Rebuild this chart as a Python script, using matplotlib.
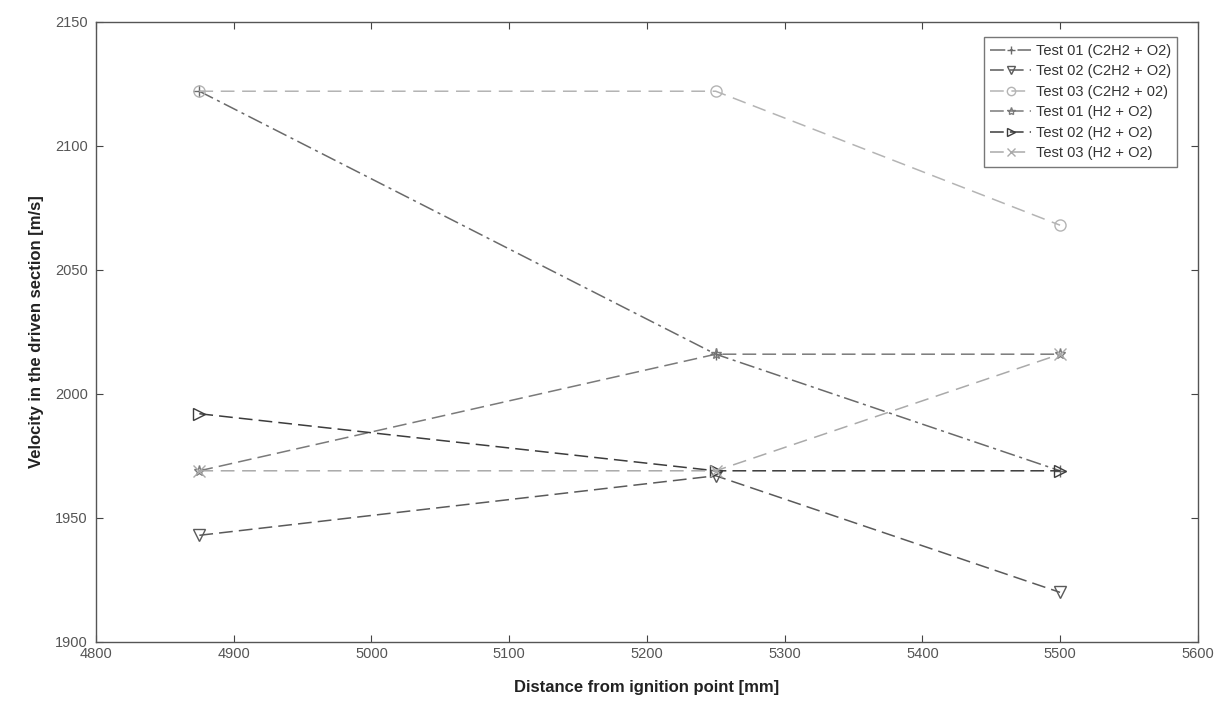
import matplotlib
matplotlib.use("Agg")
import matplotlib.pyplot as plt

plt.rcParams["font.family"] = ["Liberation Sans", "DejaVu Sans"]

distance = [4875, 5250, 5500]

seriesNames = [
    "Test 01 (C2H2 + O2)",
    "Test 02 (C2H2 + O2)",
    "Test 03 (C2H2 + 02)",
    "Test 01 (H2 + O2)",
    "Test 02 (H2 + O2)",
    "Test 03 (H2 + O2)",
]
test01C2H2 = [2122, 2016, 1969]
test02C2H2 = [1943, 1967, 1920]
test03C2H2 = [2122, 2122, 2068]
test01H2 = [1969, 2016, 2016]
test02H2 = [1992, 1969, 1969]
test03H2 = [1969, 1969, 2016]

allSeries = [test01C2H2, test02C2H2, test03C2H2, test01H2, test02H2, test03H2]
markers = ["+", "v", "o", "*", ">", "x"]
colors = ["#6a6a6a", "#5a5a5a", "#b4b4b4", "#7a7a7a", "#3c3c3c", "#aaaaaa"]
dashes = [(0, (10, 3, 2, 3)), (0, (9, 4)), (0, (9, 5)), (0, (9, 4)), (0, (9, 4)), (0, (9, 5))]

fig = plt.figure(figsize=(12.16, 7.02), dpi=100)
ax = fig.add_axes([0.079, 0.0855, 0.906, 0.8835])

for name, vals, m, c, d in zip(seriesNames, allSeries, markers, colors, dashes):
    ax.plot(distance, vals, linestyle=d, linewidth=1.1, color=c, marker=m,
            markersize=8, markerfacecolor="none", markeredgecolor=c,
            markeredgewidth=1.0, label=name)

ax.set_xlim(4800, 5600)
ax.set_ylim(1900, 2150)
ax.set_xticks(range(4800, 5601, 100))
ax.set_yticks(range(1900, 2151, 50))
ax.tick_params(direction="in", length=5, labelsize=10.5, labelcolor="#555555",
               color="#444444", top=True, right=True)
ax.tick_params(axis="y", pad=6)
for s in ax.spines.values():
    s.set_color("#555555")
    s.set_linewidth(1.0)

ax.set_xlabel("Distance from ignition point [mm]", fontsize=12, fontweight="bold",
              color="#222222", labelpad=14)
ax.set_ylabel("Velocity in the driven section [m/s]", fontsize=12, fontweight="bold",
              color="#222222", labelpad=8)

leg = ax.legend(loc="upper right", fontsize=10.5, frameon=True, fancybox=False,
                edgecolor="#555555", borderpad=0.45, labelspacing=0.45,
                handlelength=2.8, handletextpad=0.3, markerscale=0.75,
                bbox_to_anchor=(0.988, 0.987))
for t in leg.get_texts():
    t.set_color("#333333")

fig.savefig("out.png", dpi=100)
